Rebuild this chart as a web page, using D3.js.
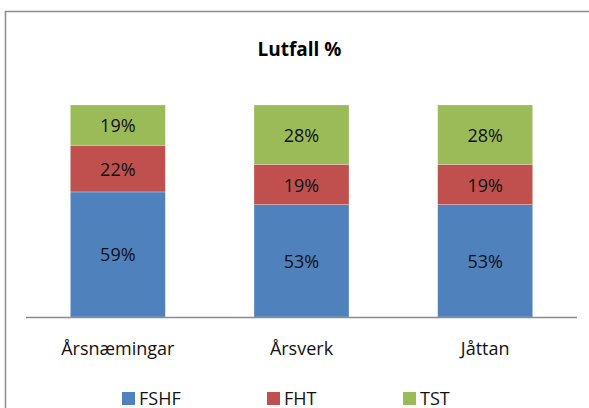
<!DOCTYPE html>
<html>
<head>
<meta charset="utf-8">
<script src="https://cdn.jsdelivr.net/npm/d3@7"></script>
<style>
  body { margin: 0; background: #fff; }
  text { font-family: "Open Sans", "Noto Sans", sans-serif; }
</style>
</head>
<body>
<div id="chart"></div>
<script>
const width = 589;
const height = 408;

const categories = ["Årsnæmingar", "Årsverk", "Jåttan"];
const seriesNames = ["FSHF", "FHT", "TST"];
const fshf = [59, 53, 53];
const fht = [22, 19, 19];
const tst = [19, 28, 28];
const colors = ["#4F81BD", "#C0504D", "#9BBB59"];

const svg = d3.select("#chart").append("svg")
  .attr("width", width)
  .attr("height", height);

// chart border (runs off the right and bottom edge)
svg.append("rect")
  .attr("x", 5.5).attr("y", 11.5)
  .attr("width", 620).attr("height", 420)
  .attr("fill", "white")
  .attr("stroke", "#8c8c8c")
  .attr("stroke-width", 1.5);

svg.append("text")
  .attr("x", 299.5)
  .attr("y", 56)
  .attr("text-anchor", "middle")
  .style("font-size", "19px")
  .style("font-weight", "bold")
  .text("Lutfall %");

const x = d3.scaleBand().domain(categories).range([26, 577]).paddingInner(0.483).paddingOuter(0.2415);
const y = d3.scaleLinear().domain([0, 100]).range([317, 105]);

const rows = categories.map((c, i) => ({cat: c, FSHF: fshf[i], FHT: fht[i], TST: tst[i]}));
const stacked = d3.stack().keys(seriesNames)(rows);

const layers = svg.append("g").selectAll("g")
  .data(stacked)
  .join("g")
  .attr("fill", (d, i) => colors[i]);

layers.selectAll("rect")
  .data(d => d)
  .join("rect")
  .attr("x", d => x(d.data.cat))
  .attr("y", d => y(d[1]))
  .attr("width", x.bandwidth())
  .attr("height", d => y(d[0]) - y(d[1]))
  .attr("stroke", "rgba(255,255,255,0.35)")
  .attr("stroke-width", 0.7);

layers.selectAll("text")
  .data(d => d)
  .join("text")
  .attr("x", d => x(d.data.cat) + x.bandwidth() / 2)
  .attr("y", d => (y(d[0]) + y(d[1])) / 2 + 7)
  .attr("text-anchor", "middle")
  .attr("fill", "#111")
  .style("font-size", "18px")
  .text(d => (d[1] - d[0]) + "%");

// category axis
svg.append("line")
  .attr("x1", 26).attr("x2", 577)
  .attr("y1", 317.5).attr("y2", 317.5)
  .attr("stroke", "#8c8c8c")
  .attr("stroke-width", 1.5);

svg.append("g").selectAll("text")
  .data(categories)
  .join("text")
  .attr("x", d => x(d) + x.bandwidth() / 2)
  .attr("y", 355)
  .attr("text-anchor", "middle")
  .attr("fill", "#111")
  .style("font-size", "18px")
  .text(d => d);

// legend
const legendX = [122, 267, 403];
const legend = svg.append("g").selectAll("g")
  .data(seriesNames)
  .join("g")
  .attr("transform", (d, i) => `translate(${legendX[i]},392)`);

legend.append("rect")
  .attr("width", 13).attr("height", 13)
  .attr("fill", (d, i) => colors[i]);

legend.append("text")
  .attr("x", 17)
  .attr("y", 13)
  .attr("fill", "#111")
  .style("font-size", "18px")
  .text(d => d);
</script>
</body>
</html>
